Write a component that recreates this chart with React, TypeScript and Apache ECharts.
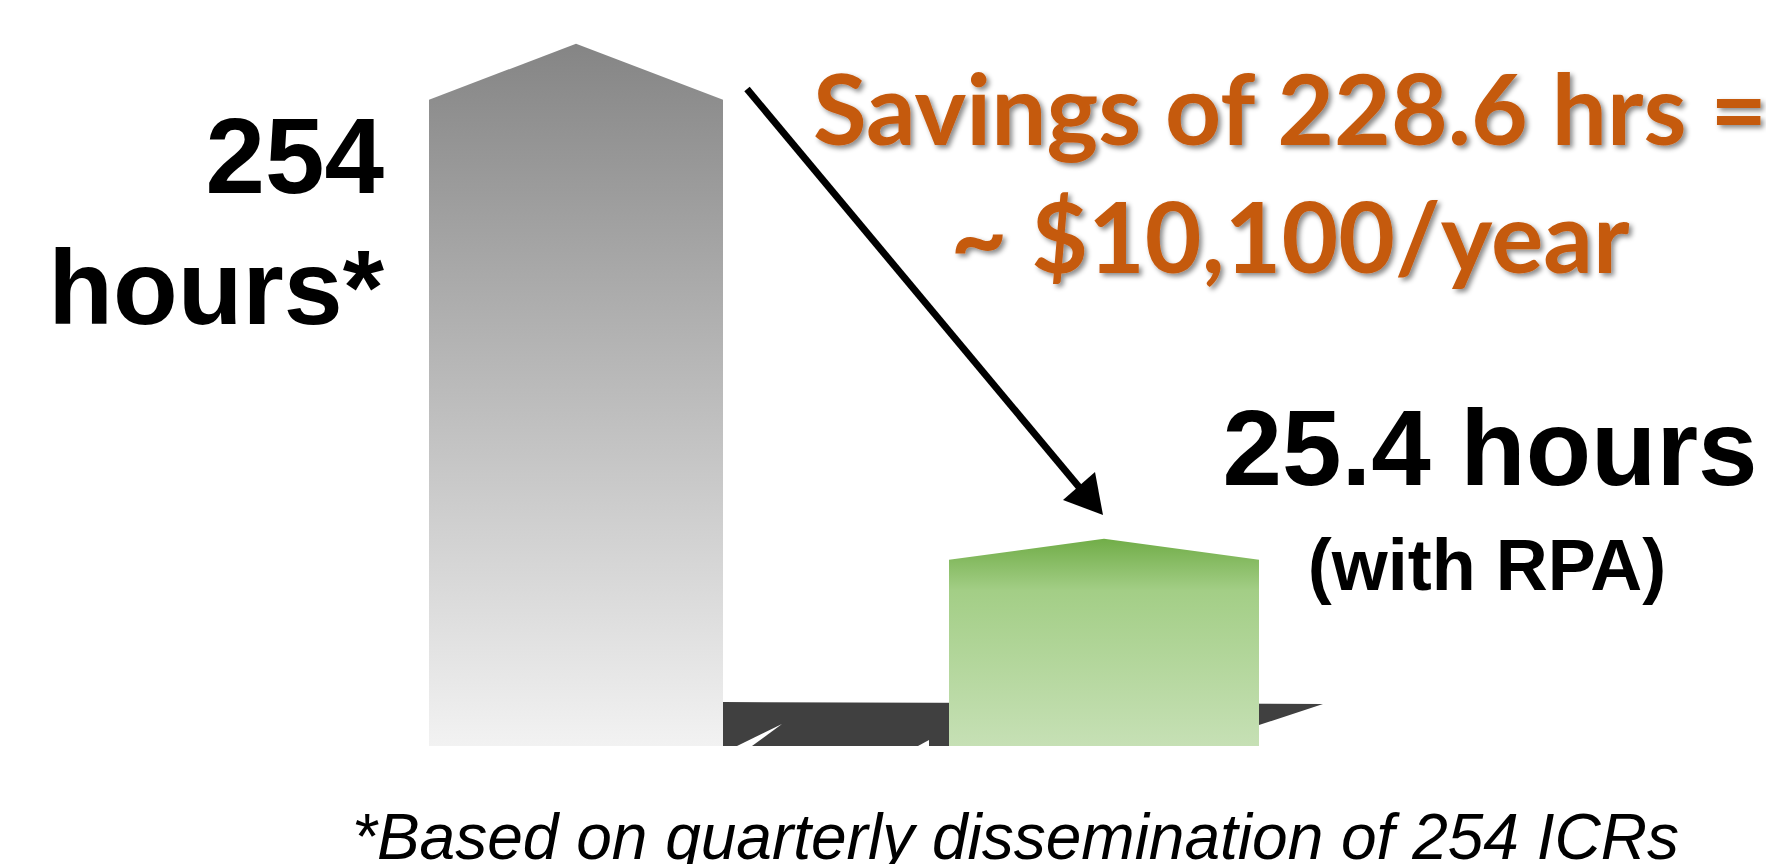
import React, { useEffect, useRef } from "react";
import * as echarts from "echarts";

// ---- data ----
const categories = ["Current process", "With RPA"];
const hoursValues = [254, 25.4];
const savingsDollars = "10,100";
const footnoteText = "*Based on quarterly dissemination of 254 ICRs";

// ---- styles (not data) ----
const barWidths = [294, 310];
const capRises = [56, 21];
const barGradients = [
  [
    { offset: 0, color: "#858585" },
    { offset: 1, color: "#f2f2f2" },
  ],
  [
    { offset: 0, color: "#71ad48" },
    { offset: 0.25, color: "#a3ce86" },
    { offset: 1, color: "#c6e0b5" },
  ],
];
const Y_MIN = 10;
const Y_MAX = 400;

function mid(baseline: number, size: number, k = 0.38) {
  return baseline - k * size;
}

export default function App() {
  const ref = useRef<HTMLDivElement>(null);
  useEffect(() => {
    if (!ref.current) return;
    const chart = echarts.init(ref.current, null, { renderer: "svg" });
    const savings = (hoursValues[0] - hoursValues[1]).toFixed(1);

    const textStyle = (extra: any) => ({
      fill: "#000",
      verticalAlign: "middle",
      textVerticalAlign: "middle",
      ...extra,
      textAlign: extra.align,
    });

    const option: any = {
      animation: false,
      backgroundColor: "#ffffff",
      grid: { left: 312, right: 398, top: 9, bottom: 118 },
      xAxis: { type: "category", data: categories, show: false },
      yAxis: { type: "log", logBase: 10, min: Y_MIN, max: Y_MAX, show: false },
      series: [
        {
          type: "custom",
          z: 1,
          clip: false,
          data: [[0, Y_MIN]],
          renderItem: (params: any, api: any) => {
            const b0 = api.coord([0, Y_MIN]);
            const b1 = api.coord([1, Y_MIN]);
            const baseY = b0[1];
            const grayRight = b0[0] + barWidths[0] / 2;
            const greenLeft = b1[0] - barWidths[1] / 2;
            const greenRight = b1[0] + barWidths[1] / 2;
            return {
              type: "group",
              children: [
                {
                  type: "polygon",
                  shape: {
                    points: [
                      [grayRight, baseY - 44],
                      [greenRight + 64, baseY - 42],
                      [greenRight, baseY - 21],
                      [greenRight, baseY],
                      [grayRight, baseY],
                    ],
                  },
                  style: { fill: "#404040" },
                },
                {
                  type: "polygon",
                  shape: {
                    points: [
                      [grayRight + 59, baseY - 22],
                      [grayRight + 14, baseY],
                      [grayRight + 29, baseY],
                    ],
                  },
                  style: { fill: "#ffffff" },
                },
                {
                  type: "polygon",
                  shape: {
                    points: [
                      [greenLeft - 20, baseY - 6],
                      [greenLeft - 31, baseY],
                      [greenLeft - 20, baseY],
                    ],
                  },
                  style: { fill: "#ffffff" },
                },
              ],
            };
          },
        },
        {
          type: "custom",
          z: 2,
          clip: false,
          data: hoursValues.map((v, i) => [i, v]),
          renderItem: (params: any, api: any) => {
            const i = params.dataIndex;
            const top = api.coord([api.value(0), api.value(1)]);
            const base = api.coord([api.value(0), Y_MIN]);
            const w = barWidths[i];
            const l = top[0] - w / 2;
            const r = top[0] + w / 2;
            return {
              type: "polygon",
              shape: {
                points: [
                  [l, base[1]],
                  [l, top[1]],
                  [top[0], top[1] - capRises[i]],
                  [r, top[1]],
                  [r, base[1]],
                ],
              },
              style: {
                fill: new echarts.graphic.LinearGradient(0, 0, 0, 1, barGradients[i]),
              },
            };
          },
        },
      ],
      graphic: [
        // arrow
        {
          type: "line",
          shape: { x1: 747, y1: 89, x2: 1084, y2: 493 },
          style: { stroke: "#000", lineWidth: 7 },
          z: 10,
        },
        {
          type: "polygon",
          shape: { points: [[1103, 515], [1063, 500], [1095, 472]] },
          style: { fill: "#000" },
          z: 10,
        },
        // left label
        {
          type: "text",
          x: 384,
          y: mid(197, 107),
          style: textStyle({
            text: String(hoursValues[0]),
            font: 'bold 107px "Liberation Sans"',
            align: "right",
          }),
          z: 10,
        },
        {
          type: "text",
          x: 384,
          y: mid(327, 106),
          style: textStyle({
            text: "hours*",
            font: 'bold 106px "Liberation Sans"',
            align: "right",
          }),
          z: 10,
        },
        // right label
        {
          type: "text",
          x: 1490,
          y: mid(489, 107),
          style: textStyle({
            text: `${hoursValues[1]} hours`,
            font: 'bold 107px "Liberation Sans"',
            align: "center",
          }),
          z: 10,
        },
        {
          type: "text",
          x: 1487,
          y: mid(592, 72),
          style: textStyle({
            text: "(with RPA)",
            font: 'bold 72px "Liberation Sans"',
            align: "center",
          }),
          z: 10,
        },
        // savings
        {
          type: "text",
          x: 1290,
          y: mid(142, 98, 0.36),
          style: textStyle({
            text: `Savings of ${savings} hrs =`,
            font: "bold 98px Lato",
            fill: "#C55A11",
            align: "center",
            textShadowColor: "rgba(0,0,0,0.45)",
            textShadowBlur: 5,
            textShadowOffsetX: 3,
            textShadowOffsetY: 3,
          }),
          z: 10,
        },
        {
          type: "text",
          x: 1290,
          y: mid(270, 98, 0.36),
          style: textStyle({
            text: `~ $${savingsDollars}/year`,
            font: "bold 98px Lato",
            fill: "#C55A11",
            align: "center",
            textShadowColor: "rgba(0,0,0,0.45)",
            textShadowBlur: 5,
            textShadowOffsetX: 3,
            textShadowOffsetY: 3,
          }),
          z: 10,
        },
        // footnote
        {
          type: "text",
          x: 352,
          y: mid(858, 64, 0.33),
          style: textStyle({
            text: footnoteText,
            font: 'italic 64px "Liberation Sans"',
            align: "left",
          }),
          z: 10,
        },
      ],
    };
    chart.setOption(option);
    return () => chart.dispose();
  }, []);

  return (
    <div
      ref={ref}
      style={{ position: "fixed", left: 0, top: 0, width: 1766, height: 864 }}
    />
  );
}
